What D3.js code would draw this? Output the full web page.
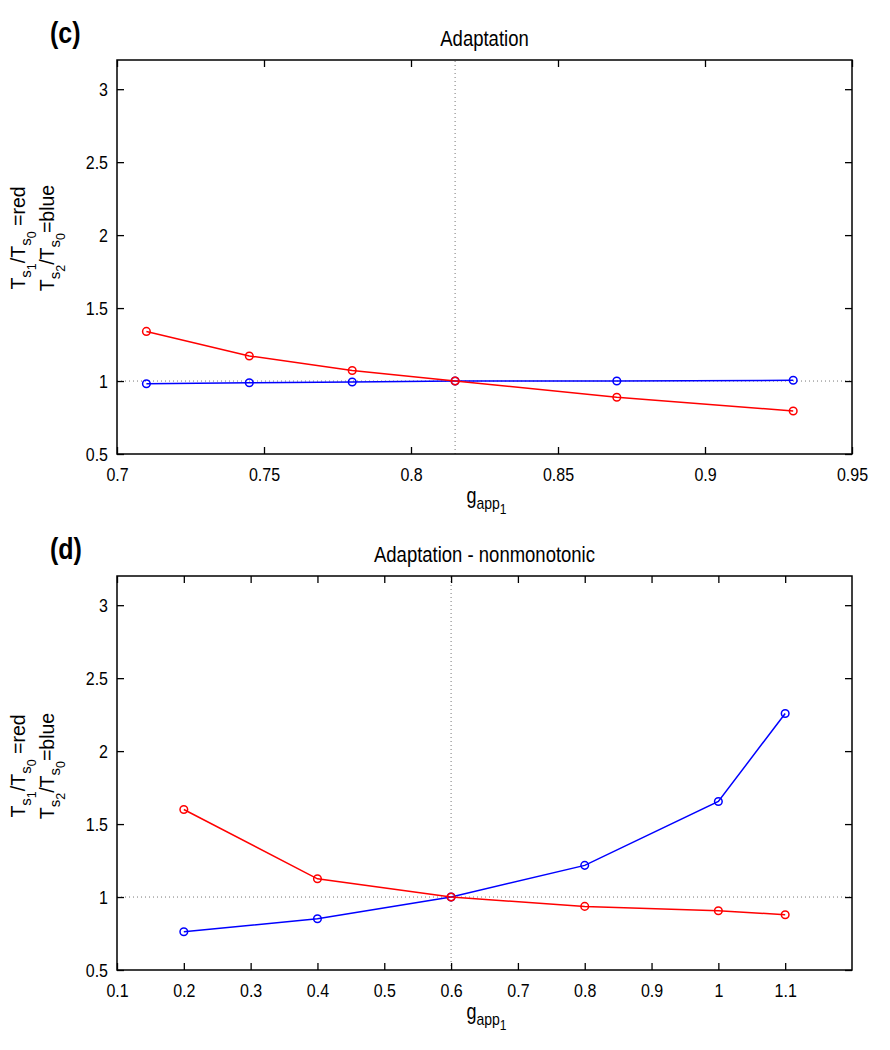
<!DOCTYPE html>
<html>
<head>
<meta charset="utf-8">
<script src="https://cdn.jsdelivr.net/npm/d3@7"></script>
<style>
  html, body { margin: 0; padding: 0; background: #fff; }
  svg { display: block; }
  text { font-family: "Liberation Sans", Arial, Helvetica, sans-serif; fill: #000; }
</style>
</head>
<body>
<svg id="chart" width="890" height="1050"></svg>
<script>
// ---------- Data ----------
// Panel (c): Adaptation
const cTitle = "Adaptation";
const cX = [0.71, 0.745, 0.78, 0.815, 0.87, 0.93];
const cRed = [1.34, 1.172, 1.072, 1.0, 0.889, 0.795];
const cBlue = [0.981, 0.988, 0.993, 1.0, 1.0, 1.005];
const cXTicks = [0.7, 0.75, 0.8, 0.85, 0.9, 0.95];
const cXDomain = [0.7, 0.95];
const cVLine = 0.815;

// Panel (d): Adaptation - nonmonotonic
const dTitle = "Adaptation - nonmonotonic";
const dX = [0.2, 0.4, 0.6, 0.8, 1.0, 1.1];
const dRed = [1.60, 1.125, 1.0, 0.936, 0.906, 0.879];
const dBlue = [0.762, 0.851, 1.0, 1.217, 1.655, 2.258];
const dXTicks = [0.1, 0.2, 0.3, 0.4, 0.5, 0.6, 0.7, 0.8, 0.9, 1, 1.1];
const dXDomain = [0.1, 1.2];
const dVLine = 0.6;

const yTicks = [0.5, 1, 1.5, 2, 2.5, 3];
const yDomain = [0.5, 3.2];
const hLine = 1;

// ---------- Drawing ----------
const svg = d3.select("#chart");
const left = 117, right = 852;
const SY = 1.2; // vertical stretch of glyphs seen in the reference

const panels = [
  { label: "(c)", title: cTitle, x: cX, red: cRed, blue: cBlue, xTicks: cXTicks, xDomain: cXDomain, vline: cVLine, top: 60, bottom: 454, ylOff: -19 },
  { label: "(d)", title: dTitle, x: dX, red: dRed, blue: dBlue, xTicks: dXTicks, xDomain: dXDomain, vline: dVLine, top: 576, bottom: 970, ylOff: -7 }
];

const fmt = v => String(+v.toFixed(3));

function stretchText(sel, x, y) {
  sel.attr("transform", `translate(${x},${y}) scale(1,${SY}) translate(${-x},${-y})`);
}

panels.forEach(p => {
  const g = svg.append("g");
  const x = d3.scaleLinear().domain(p.xDomain).range([left, right]);
  const y = d3.scaleLinear().domain(yDomain).range([p.bottom, p.top]);

  // reference dotted lines
  g.append("line")
    .attr("x1", x(p.xDomain[0])).attr("x2", x(p.xDomain[1]))
    .attr("y1", y(hLine)).attr("y2", y(hLine))
    .attr("stroke", "#777").attr("stroke-width", 1).attr("stroke-dasharray", "1,3");
  g.append("line")
    .attr("x1", x(p.vline)).attr("x2", x(p.vline))
    .attr("y1", y(yDomain[0])).attr("y2", y(yDomain[1]))
    .attr("stroke", "#777").attr("stroke-width", 1).attr("stroke-dasharray", "1,3");

  // axes (ticks inward, all four sides)
  const tk = 7;
  const bottomAx = d3.axisBottom(x).tickValues(p.xTicks).tickSize(-tk).tickPadding(11).tickFormat(fmt);
  const topAx = d3.axisTop(x).tickValues(p.xTicks).tickSize(-tk).tickFormat("");
  const leftAx = d3.axisLeft(y).tickValues(yTicks).tickSize(-tk).tickPadding(9).tickFormat(fmt);
  const rightAx = d3.axisRight(y).tickValues(yTicks).tickSize(-tk).tickFormat("");

  const axes = [
    g.append("g").attr("transform", `translate(0,${p.bottom})`).call(bottomAx),
    g.append("g").attr("transform", `translate(0,${p.top})`).call(topAx),
    g.append("g").attr("transform", `translate(${left},0)`).call(leftAx),
    g.append("g").attr("transform", `translate(${right},0)`).call(rightAx)
  ];
  axes.forEach(a => {
    a.select(".domain").remove();
    a.selectAll(".tick line").attr("stroke", "#000").attr("stroke-width", 1.3);
    a.selectAll(".tick text").style("font-size", "16px")
      .style("font-family", '"Liberation Sans", Arial, sans-serif').attr("fill", "#000")
      .attr("transform", `scale(1,${SY})`);
  });

  // box
  g.append("rect")
    .attr("x", left).attr("y", p.top)
    .attr("width", right - left).attr("height", p.bottom - p.top)
    .attr("fill", "none").attr("stroke", "#000").attr("stroke-width", 1.5);

  // series
  const series = [
    { vals: p.blue, color: "#0000ff" },
    { vals: p.red, color: "#ff0000" }
  ];
  series.forEach(s => {
    const pts = p.x.map((xv, i) => [xv, s.vals[i]]);
    g.append("path")
      .datum(pts)
      .attr("fill", "none").attr("stroke", s.color).attr("stroke-width", 1.5)
      .attr("d", d3.line().x(d => x(d[0])).y(d => y(d[1])));
    g.selectAll(null).data(pts).enter().append("circle")
      .attr("cx", d => x(d[0])).attr("cy", d => y(d[1]))
      .attr("r", 3.8).attr("fill", "none")
      .attr("stroke", s.color).attr("stroke-width", 1.5);
  });

  // title
  const tx = (left + right) / 2, ty = p.top - 14;
  g.append("text")
    .attr("x", tx).attr("y", ty)
    .attr("text-anchor", "middle").style("font-size", "18.5px")
    .text(p.title).call(stretchText, tx, ty);

  // panel label
  const lx = 50, ly = p.top - 17;
  g.append("text")
    .attr("x", lx).attr("y", ly)
    .style("font-size", "25px").style("font-weight", "bold")
    .text(p.label).call(stretchText, lx, ly);

  // x label: g_{app_1}
  const gx = (left + right) / 2 + 2, gy = p.bottom + 49;
  const xl = g.append("text")
    .attr("x", gx).attr("y", gy)
    .attr("text-anchor", "middle").style("font-size", "18px");
  xl.append("tspan").text("g");
  xl.append("tspan").attr("dy", 5).style("font-size", "14px").text("app");
  xl.append("tspan").attr("dy", 4).style("font-size", "12px").text("1");
  xl.call(stretchText, gx, gy);

  // y label: two rotated lines
  const cy = (p.top + p.bottom) / 2 + p.ylOff;
  const lines = [
    { bx: 25, a: "1", b: "0", tail: " =red" },
    { bx: 54, a: "2", b: "0", tail: "=blue" }
  ];
  lines.forEach(L => {
    const t = g.append("text")
      .attr("transform", `translate(${L.bx},${cy}) rotate(-90)`)
      .attr("text-anchor", "middle").style("font-size", "19.5px");
    t.append("tspan").text("T");
    t.append("tspan").attr("dy", 6).style("font-size", "15px").text("s");
    t.append("tspan").attr("dy", 5).style("font-size", "12.5px").text(L.a);
    t.append("tspan").attr("dy", -11).text("/T");
    t.append("tspan").attr("dy", 6).style("font-size", "15px").text("s");
    t.append("tspan").attr("dy", 5).style("font-size", "12.5px").text(L.b);
    t.append("tspan").attr("dy", -11).text(L.tail);
  });
});
</script>
</body>
</html>
